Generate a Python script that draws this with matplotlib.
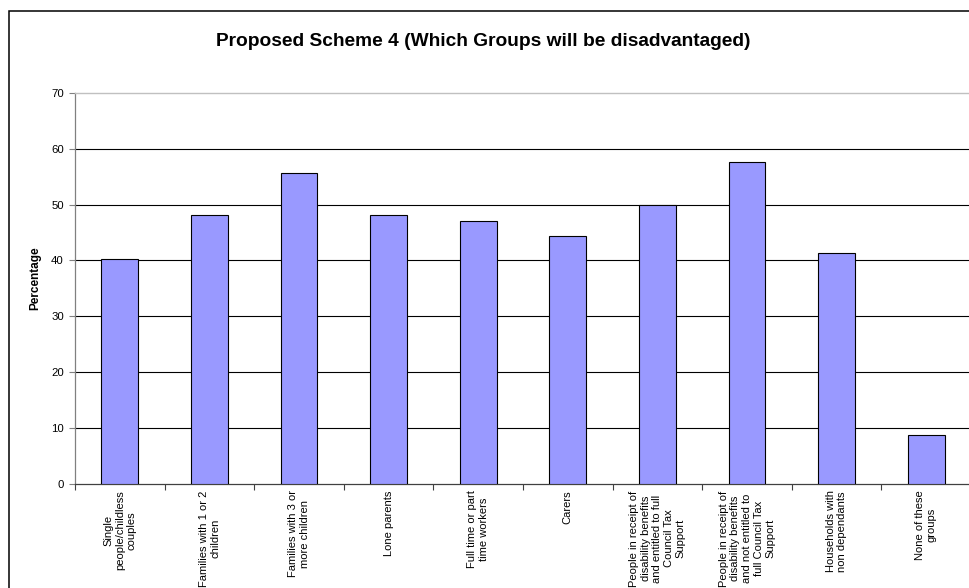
import matplotlib
matplotlib.use("Agg")
import matplotlib.pyplot as plt
from matplotlib.patches import Rectangle
import numpy as np

categories = [
    "Single\npeople/childless\ncouples",
    "Families with 1 or 2\nchildren",
    "Families with 3 or\nmore children",
    "Lone parents",
    "Full time or part\ntime workers",
    "Carers",
    "People in receipt of\ndisability benefits\nand entitled to full\nCouncil Tax\nSupport",
    "People in receipt of\ndisability benefits\nand not entitled to\nfull Council Tax\nSupport",
    "Households with\nnon dependants",
    "None of these\ngroups",
]
percentages = [40.3, 48.1, 55.7, 48.1, 47.1, 44.3, 50.0, 57.6, 41.4, 8.7]
y_ticks = [0, 10, 20, 30, 40, 50, 60, 70]

title = "Proposed Scheme 4 (Which Groups will be disadvantaged)"
y_label = "Percentage"

W, H = 970, 588
fig = plt.figure(figsize=(W / 100, H / 100), dpi=100)
fig.patch.set_facecolor("white")

font = "Liberation Sans"

# plot area in pixel coordinates
left, right, top, bottom = 75, 971, 93, 483.5
ax = fig.add_axes([left / W, 1 - bottom / H, (right - left) / W, (bottom - top) / H])

x = np.arange(len(categories))
ax.bar(x, percentages, width=0.41, color="#9999FF", edgecolor="#000000",
       linewidth=0.8, zorder=3)

ax.set_xlim(-0.5, len(categories) - 0.5)
ax.set_ylim(y_ticks[0], y_ticks[-1])

# horizontal grid lines (the top one is the plot-area border)
ax.hlines(y_ticks[1:-1], 0, 1, transform=ax.get_yaxis_transform(),
          color="#000000", linewidth=0.8, zorder=1)

ax.spines["right"].set_visible(False)
ax.spines["top"].set_color("#c0c0c0")
ax.spines["top"].set_linewidth(1.0)
ax.spines["left"].set_color("#808080")
ax.spines["left"].set_linewidth(0.9)
ax.spines["bottom"].set_color("#404040")
ax.spines["bottom"].set_linewidth(0.9)

ax.set_yticks(y_ticks)
ax.set_yticklabels([str(v) for v in y_ticks], fontsize=8.2, fontfamily=font,
                   color="#000000")
ax.tick_params(axis="y", direction="out", length=4, width=0.8, color="#808080",
               pad=4)

ax.set_xticks(x)
ax.set_xticklabels(categories, rotation=90, fontsize=8, fontfamily=font,
                   ha="center", va="top", multialignment="center",
                   linespacing=1.2)
ax.tick_params(axis="x", which="major", length=0, pad=5)
ax.set_xticks(np.arange(-0.5, len(categories), 1.0), minor=True)
ax.tick_params(axis="x", which="minor", direction="out", length=4, width=0.8,
               color="#404040")

fig.text(483 / W, 1 - 42 / H, title, ha="center", va="center",
         fontsize=13.8, fontweight="bold", fontfamily=font)
fig.text(35 / W, 1 - 278 / H, y_label, ha="center", va="center",
         rotation=90, fontsize=8.5, fontweight="bold", fontfamily=font)

# outer chart border
fig.add_artist(Rectangle((9 / W, -0.1), 1.2, (H - 11) / H + 0.1,
                         transform=fig.transFigure, fill=False,
                         edgecolor="#000000", linewidth=1.1, clip_on=False))

fig.savefig("out.png", dpi=100, facecolor="white")
